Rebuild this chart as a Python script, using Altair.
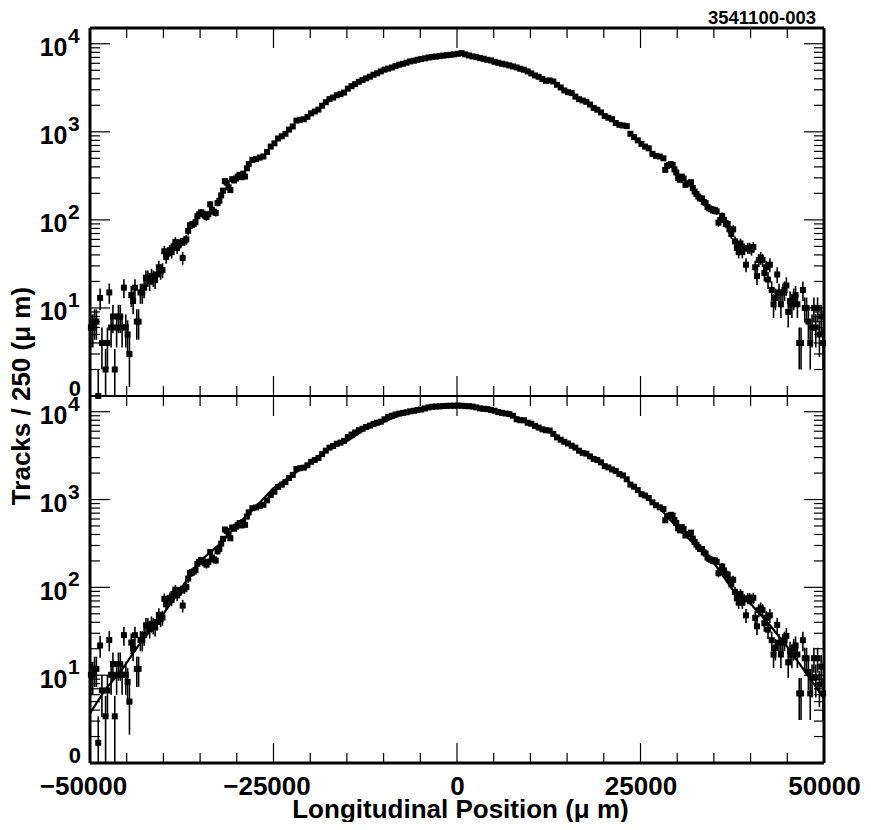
import numpy as np
import pandas as pd
import altair as alt

# bin centres (um); centre of the curve taken every second bin
x_left = [
    -49875, -49625, -49375, -49125, -48875, -48625, -48375,
    -47875, -47625, -47375, -47125, -46875, -46625, -46375, -46125, -45875, -45625,
    -45375, -45125, -44875, -44625, -44375, -44125, -43875, -43625, -43375, -43125,
    -42875, -42625, -42375, -42125, -41875, -41625, -41375, -41125, -40875, -40625,
    -40375, -40125, -39875, -39625, -39375, -39125, -38875, -38625, -38375, -38125,
    -37875, -37625, -37375, -37125, -36875, -36625, -36375, -36125, -35875, -35625,
    -35375, -35125, -34875, -34625, -34375, -34125, -33875, -33625, -33375, -33125,
    -32875, -32625, -32375, -32125, -31875, -31625, -31375, -31125, -30875, -30625,
    -30375, -30125, -29875, -29625, -29375, -29125, -28875, -28625,
]
x_mid = [
    -28375, -27875, -27375, -26875, -26375, -25875, -25375, -24875, -24375, -23875,
    -23375, -22875, -22375, -21875, -21375, -20875, -20375, -19875, -19375, -18875,
    -18375, -17875, -17375, -16875, -16375, -15875, -15375, -14875, -14375, -13875,
    -13375, -12875, -12375, -11875, -11375, -10875, -10375, -9875, -9375, -8875,
    -8375, -7875, -7375, -6875, -6375, -5875, -5375, -4875, -4375, -3875,
    -3375, -2875, -2375, -1875, -1375, -875, -375, 125,
    625, 1125, 1625, 2125, 2625, 3125, 3625, 4125, 4625, 5125,
    5625, 6125, 6625, 7125, 7625, 8125, 8625, 9125, 9625, 10125,
    10625, 11125, 11625, 12125, 12625, 13125, 13625, 14125, 14625, 15125,
    15625, 16125, 16625, 17125, 17625, 18125, 18625, 19125, 19625, 20125,
    20625, 21125, 21625, 22125, 22625, 23125, 23625, 24125, 24625, 25125,
    25625, 26125, 26625, 27125, 27625,
]
x_right = [
    28125, 28375, 28625, 28875, 29125, 29375, 29625, 29875, 30125, 30375,
    30625, 30875, 31125, 31375, 31625, 31875, 32125, 32375, 32625, 32875,
    33125, 33375, 33625, 33875, 34125, 34375, 34625, 34875, 35125, 35375,
    35625, 35875, 36125, 36375, 36625, 36875, 37125, 37375, 37625, 37875,
    38125, 38375, 38625, 38875, 39125, 39375, 39625, 39875, 40125, 40375,
    40625, 40875, 41125, 41375, 41625, 41875, 42125, 42375, 42625, 42875,
    43125, 43375, 43625, 43875, 44125, 44375, 44625, 44875, 45125, 45375,
    45625, 45875, 46125, 46375, 46625, 46875, 47125, 47375, 47625, 47875,
    48125, 48375, 48625, 48875, 49125, 49375, 49625, 49875,
]
bin_x = x_left + x_mid + x_right

# upper panel, tracks per bin
top_left = [
    6, 6, 7, 7, 1, 13, 4,
    2, 4, 15, 6, 8, 2, 6, 8, 8, 6,
    17, 6, 5, 3, 14, 12, 17, 7, 7, 15,
    15, 17, 22, 22, 20, 23, 22, 21, 24, 29,
    26, 27, 44, 38, 42, 45, 43, 50, 56, 48,
    53, 55, 37, 58, 60, 75, 87, 88, 90, 94,
    110, 116, 122, 118, 112, 108, 116, 150, 130, 124,
    120, 155, 165, 190, 215, 275, 265, 235, 218, 290,
    280, 295, 310, 325, 305, 335, 310, 385,
]
top_mid = [
    430, 480, 490, 510, 525, 590, 680, 740, 840, 890,
    950, 1060, 1150, 1340, 1370, 1390, 1480, 1620, 1700, 1790,
    1980, 2170, 2350, 2450, 2600, 2680, 2790, 3090, 3300, 3480,
    3700, 3880, 4050, 4230, 4450, 4620, 4850, 5080, 5220, 5370,
    5570, 5780, 5920, 6100, 6300, 6420, 6580, 6700, 6830, 6980,
    7090, 7150, 7250, 7340, 7420, 7500, 7580, 7700,
    7830, 7570, 7370, 7180, 7050, 6870, 6760, 6580, 6460, 6240,
    6080, 5930, 5820, 5675, 5525, 5380, 5200, 5070, 4855, 4600,
    4365, 4215, 3985, 3800, 3830, 3730, 3420, 3190, 2950, 2820,
    2750, 2510, 2345, 2270, 2190, 2040, 1870, 1780, 1660, 1510,
    1445, 1390, 1260, 1200, 1180, 1160, 950, 870, 800, 730,
    680, 650, 562, 533, 525,
]
top_right = [
    500, 370, 410, 420, 430, 420, 375, 345, 300, 285,
    310, 295, 250, 258, 261, 268, 230, 210, 197, 184,
    175, 175, 160, 155, 140, 135, 132, 128, 130, 125,
    93, 100, 111, 100, 90, 90, 78, 69, 78, 57,
    48, 43, 54, 43, 47, 31, 48, 48, 46, 49,
    29, 23, 35, 37, 35, 25, 29, 21, 31, 16,
    11, 13, 24, 15, 11, 15, 16, 18, 9, 12,
    11, 13, 14, 11, 4, 4, 16, 10, 10, 7,
    4, 6, 10, 6, 10, 5, 8, 4,
]
top_y = top_left + top_mid + top_right

# lower panel, corrected tracks per bin
bottom_left = [
    10.1, 10.1, 11.8, 11.8, 1.7, 21.8, 6.7,
    3.4, 6.7, 25.2, 10.1, 13.4, 3.4, 10.1, 13.4, 13.4, 10.1,
    28.6, 10.1, 8.4, 5.0, 23.5, 20.2, 28.6, 11.8, 11.8, 25.2,
    25.2, 28.6, 37, 37, 33.6, 38.6, 37, 35.3, 40.3, 48.7,
    43.7, 45.4, 74, 64, 71, 76, 72, 84, 94, 81,
    89, 92, 62, 97, 101, 126, 146, 148, 151, 158,
    185, 195, 205, 198, 188, 181, 195, 252, 218, 208,
    202, 257, 274, 315, 357, 456, 440, 390, 362, 481,
    465, 490, 515, 540, 506, 556, 515, 639,
]
bottom_mid = [
    714, 797, 813, 847, 872, 979, 1129, 1228, 1394, 1477,
    1577, 1760, 1909, 2224, 2274, 2307, 2457, 2690, 2822, 2971,
    3287, 3600, 3900, 4070, 4320, 4450, 4650, 5150, 5500, 5800,
    6150, 6400, 6700, 6950, 7250, 7500, 7700, 8200, 8700, 9000,
    9300, 9500, 9700, 9850, 10100, 10250, 10450, 10600, 10900, 11200,
    11400, 11450, 11500, 11600, 11650, 11700, 11700, 11750,
    11700, 11600, 11550, 11450, 11200, 10900, 10800, 10700, 10500, 10250,
    9900, 9700, 9550, 9400, 9000, 8200, 8000, 8000, 7500, 7300,
    6900, 6600, 6300, 6150, 6100, 5600, 5100, 4800, 4550, 4350,
    4100, 3900, 3600, 3400, 3330, 3100, 2900, 2820, 2650, 2400,
    2320, 2200, 2120, 1950, 1880, 1700, 1480, 1400, 1280, 1150,
    1110, 1040, 930, 860, 815,
]
bottom_right = [
    780, 580, 640, 655, 670, 655, 585, 540, 470, 445,
    485, 460, 390, 400, 405, 420, 360, 328, 307, 287,
    273, 273, 250, 242, 218, 211, 206, 200, 203, 195,
    145, 156, 173, 156, 140, 140, 122, 108, 122, 89,
    75, 67, 84, 67, 73, 48, 75, 75, 72, 76,
    45, 36, 55, 58, 55, 39, 45, 33, 48, 25,
    17.2, 20.3, 37.4, 23.4, 17.2, 23.4, 25, 28, 14, 18.7,
    17.2, 20.3, 21.8, 17.2, 6.2, 6.2, 25, 15.6, 15.6, 10.9,
    6.2, 9.4, 15.6, 9.4, 15.6, 7.8, 12.5, 6.2,
]
bottom_y = bottom_left + bottom_mid + bottom_right

# fit drawn over the lower panel
fit_x = [-50000, -48000, -45450, -43200, -40000, -37500, -35000, -32500, -30000,
         -27500, -25000, -22500, -20000, -17500, -15000, -12500, -10000, -7500, -5000, -2500,
         0, 2500, 5000, 7500, 10000, 12500, 15000, 17500, 20000, 22500, 25000, 27500,
         30000, 32500, 35000, 37636, 40000, 42636, 45000, 48090, 50000]
fit_y = [3.67, 6.7, 12.2, 23, 50, 100, 200, 300, 510,
         810, 1350, 1880, 2650, 3820, 4600, 6330, 7650, 9450, 10550, 11500,
         11900, 11300, 10300, 9100, 7400, 6100, 4400, 3330, 2450, 1900, 1170, 815,
         480, 300, 190, 92, 65, 37, 21, 9.2, 5.4]

# tick positions and labels
x_minor = [-45000, -40000, -35000, -30000, -20000, -15000, -10000, -5000,
           5000, 10000, 15000, 20000, 30000, 35000, 40000, 45000]
x_major = [-25000, 0, 25000]
x_labels = [-50000, -25000, 0, 25000, 50000]
y_minor = [2, 3, 4, 5, 6, 7, 8, 9, 20, 30, 40, 50, 60, 70, 80, 90,
           200, 300, 400, 500, 600, 700, 800, 900, 2000, 3000, 4000, 5000, 6000, 7000, 8000, 9000]
y_major = [10, 100, 1000, 10000]
y_exp = ["1", "2", "3", "4"]

W = 734
H = 368
FONT = "Liberation Sans"
Y_TOP = 15100

x_scale = alt.Scale(domain=[-50000, 50000], nice=False, zero=False)
y_scale = alt.Scale(type="log", domain=[1, Y_TOP], nice=False)
one_row = alt.Data(values=[{"a": 1}])


def make_df(values, w_left, w_right):
    df = pd.DataFrame({"x": bin_x, "y": values})
    w = np.where(df["x"] < 0, w_left, w_right)
    err = np.sqrt(w * df["y"])
    df["low"] = np.maximum(df["y"] - err, 1)
    df["high"] = df["y"] + err
    return df


def border(x1, x2, y1, y2, sw):
    return alt.Chart(one_row).mark_rule(color="black", strokeWidth=sw).encode(
        x=alt.value(x1), x2=alt.value(x2), y=alt.value(y1), y2=alt.value(y2)
    )


def panel(df, h, bottom):
    xa = None
    if bottom:
        # the minus sign hangs to the left of the centred digits
        xa = alt.Axis(values=x_labels, grid=False, domain=False, ticks=False,
                      labelExpr="datum.value < 0 ? '\u2212' + abs(datum.value) : '' + datum.value",
                      labelOffset={"condition": {"test": "datum.value < 0", "value": -7}, "value": 0},
                      labelFont=FONT, labelFontSize=26, labelFontWeight="bold", labelColor="black",
                      labelPadding=10, labelOverlap=False, labelBound=False, labelFlush=False,
                      title="Longitudinal Position (\u03bc m)", titleFont=FONT, titleFontSize=26,
                      titleFontWeight="bold", titleColor="black", titlePadding=-3, titleX=W / 2 + 3)
    ya = alt.Axis(values=y_major, grid=False, domain=False, ticks=False, title=None,
                  labelExpr="'10'", labelFont=FONT, labelFontSize=25, labelFontWeight="bold",
                  labelColor="black", labelPadding=23, labelOffset=4)
    enc_x = alt.X("x:Q", scale=x_scale, axis=xa, title="Longitudinal Position (\u03bc m)" if bottom else None)
    enc_y = alt.Y("y:Q", scale=y_scale, axis=ya, title=None)

    def x_ticks(vals, y1, y2):
        return alt.Chart(pd.DataFrame({"x": vals})).mark_rule(color="black", strokeWidth=1.2).encode(
            x=enc_x, y=alt.value(y1), y2=alt.value(y2)
        )

    def y_ticks(vals, x1, x2):
        return alt.Chart(pd.DataFrame({"y": vals})).mark_rule(color="black", strokeWidth=1.2).encode(
            y=enc_y, x=alt.value(x1), x2=alt.value(x2)
        )

    bars = alt.Chart(df).mark_rule(color="black", strokeWidth=1.6).encode(
        x=enc_x,
        y=alt.Y("low:Q", scale=y_scale, axis=ya, title=None),
        y2="high:Q",
    )
    points = alt.Chart(df).mark_square(color="black", size=36, opacity=1).encode(x=enc_x, y=enc_y)
    exps = alt.Chart(pd.DataFrame({"y": y_major, "t": y_exp})).mark_text(
        font=FONT, fontSize=21, fontWeight="bold", color="black", align="left", dy=-7
    ).encode(y=enc_y, x=alt.value(-22), text="t:N")
    zero = alt.Chart(pd.DataFrame({"y": [1], "t": ["0"]})).mark_text(
        font=FONT, fontSize=22, fontWeight="bold", color="black", align="right", dy=-7
    ).encode(y=enc_y, x=alt.value(-9), text="t:N")

    layers = [
        bars, points, exps, zero,
        x_ticks(x_minor, 0, 10), x_ticks(x_major, 0, 20),
        x_ticks(x_minor, h - 10, h), x_ticks(x_major, h - 20, h),
        y_ticks(y_minor, 0, 10), y_ticks(y_major, 0, 20),
        y_ticks(y_minor, W - 10, W), y_ticks(y_major, W - 20, W),
        border(0, 0, 0, h, 3), border(W, W, 0, h, 3),
    ]
    if bottom:
        fit = alt.Chart(pd.DataFrame({"x": fit_x, "y": fit_y})).mark_line(
            color="black", strokeWidth=2.2
        ).encode(x=enc_x, y=enc_y)
        layers.insert(2, fit)
        layers += [border(0, W, h, h, 3), border(0, W, 0, 0, 2)]
    else:
        stamp = alt.Chart(one_row).mark_text(
            text="3541100-003", font=FONT, fontSize=18.5, fontWeight="bold", color="black", align="right"
        ).encode(x=alt.value(726), y=alt.value(-10))
        ytitle = alt.Chart(one_row).mark_text(
            text="Tracks / 250 (\u03bc m)", font=FONT, fontSize=26, fontWeight="bold", color="black",
            angle=270, align="center"
        ).encode(x=alt.value(-68), y=alt.value(H))
        layers += [stamp, ytitle, border(0, W, 0, 0, 3), border(0, W, h, h, 2)]
    return alt.layer(*layers).properties(width=W, height=h)


top = panel(make_df(top_y, 1, 1), H, False)
bottom = panel(make_df(bottom_y, 1.68, 1.56), H - 1, True)

chart = alt.vconcat(top, bottom, spacing=0, bounds="flush").properties(
    padding={"left": 1, "top": 1, "right": 0, "bottom": 0}
).configure_view(stroke=None)

chart.save("out.html", embed_options={"renderer": "svg", "actions": False})
